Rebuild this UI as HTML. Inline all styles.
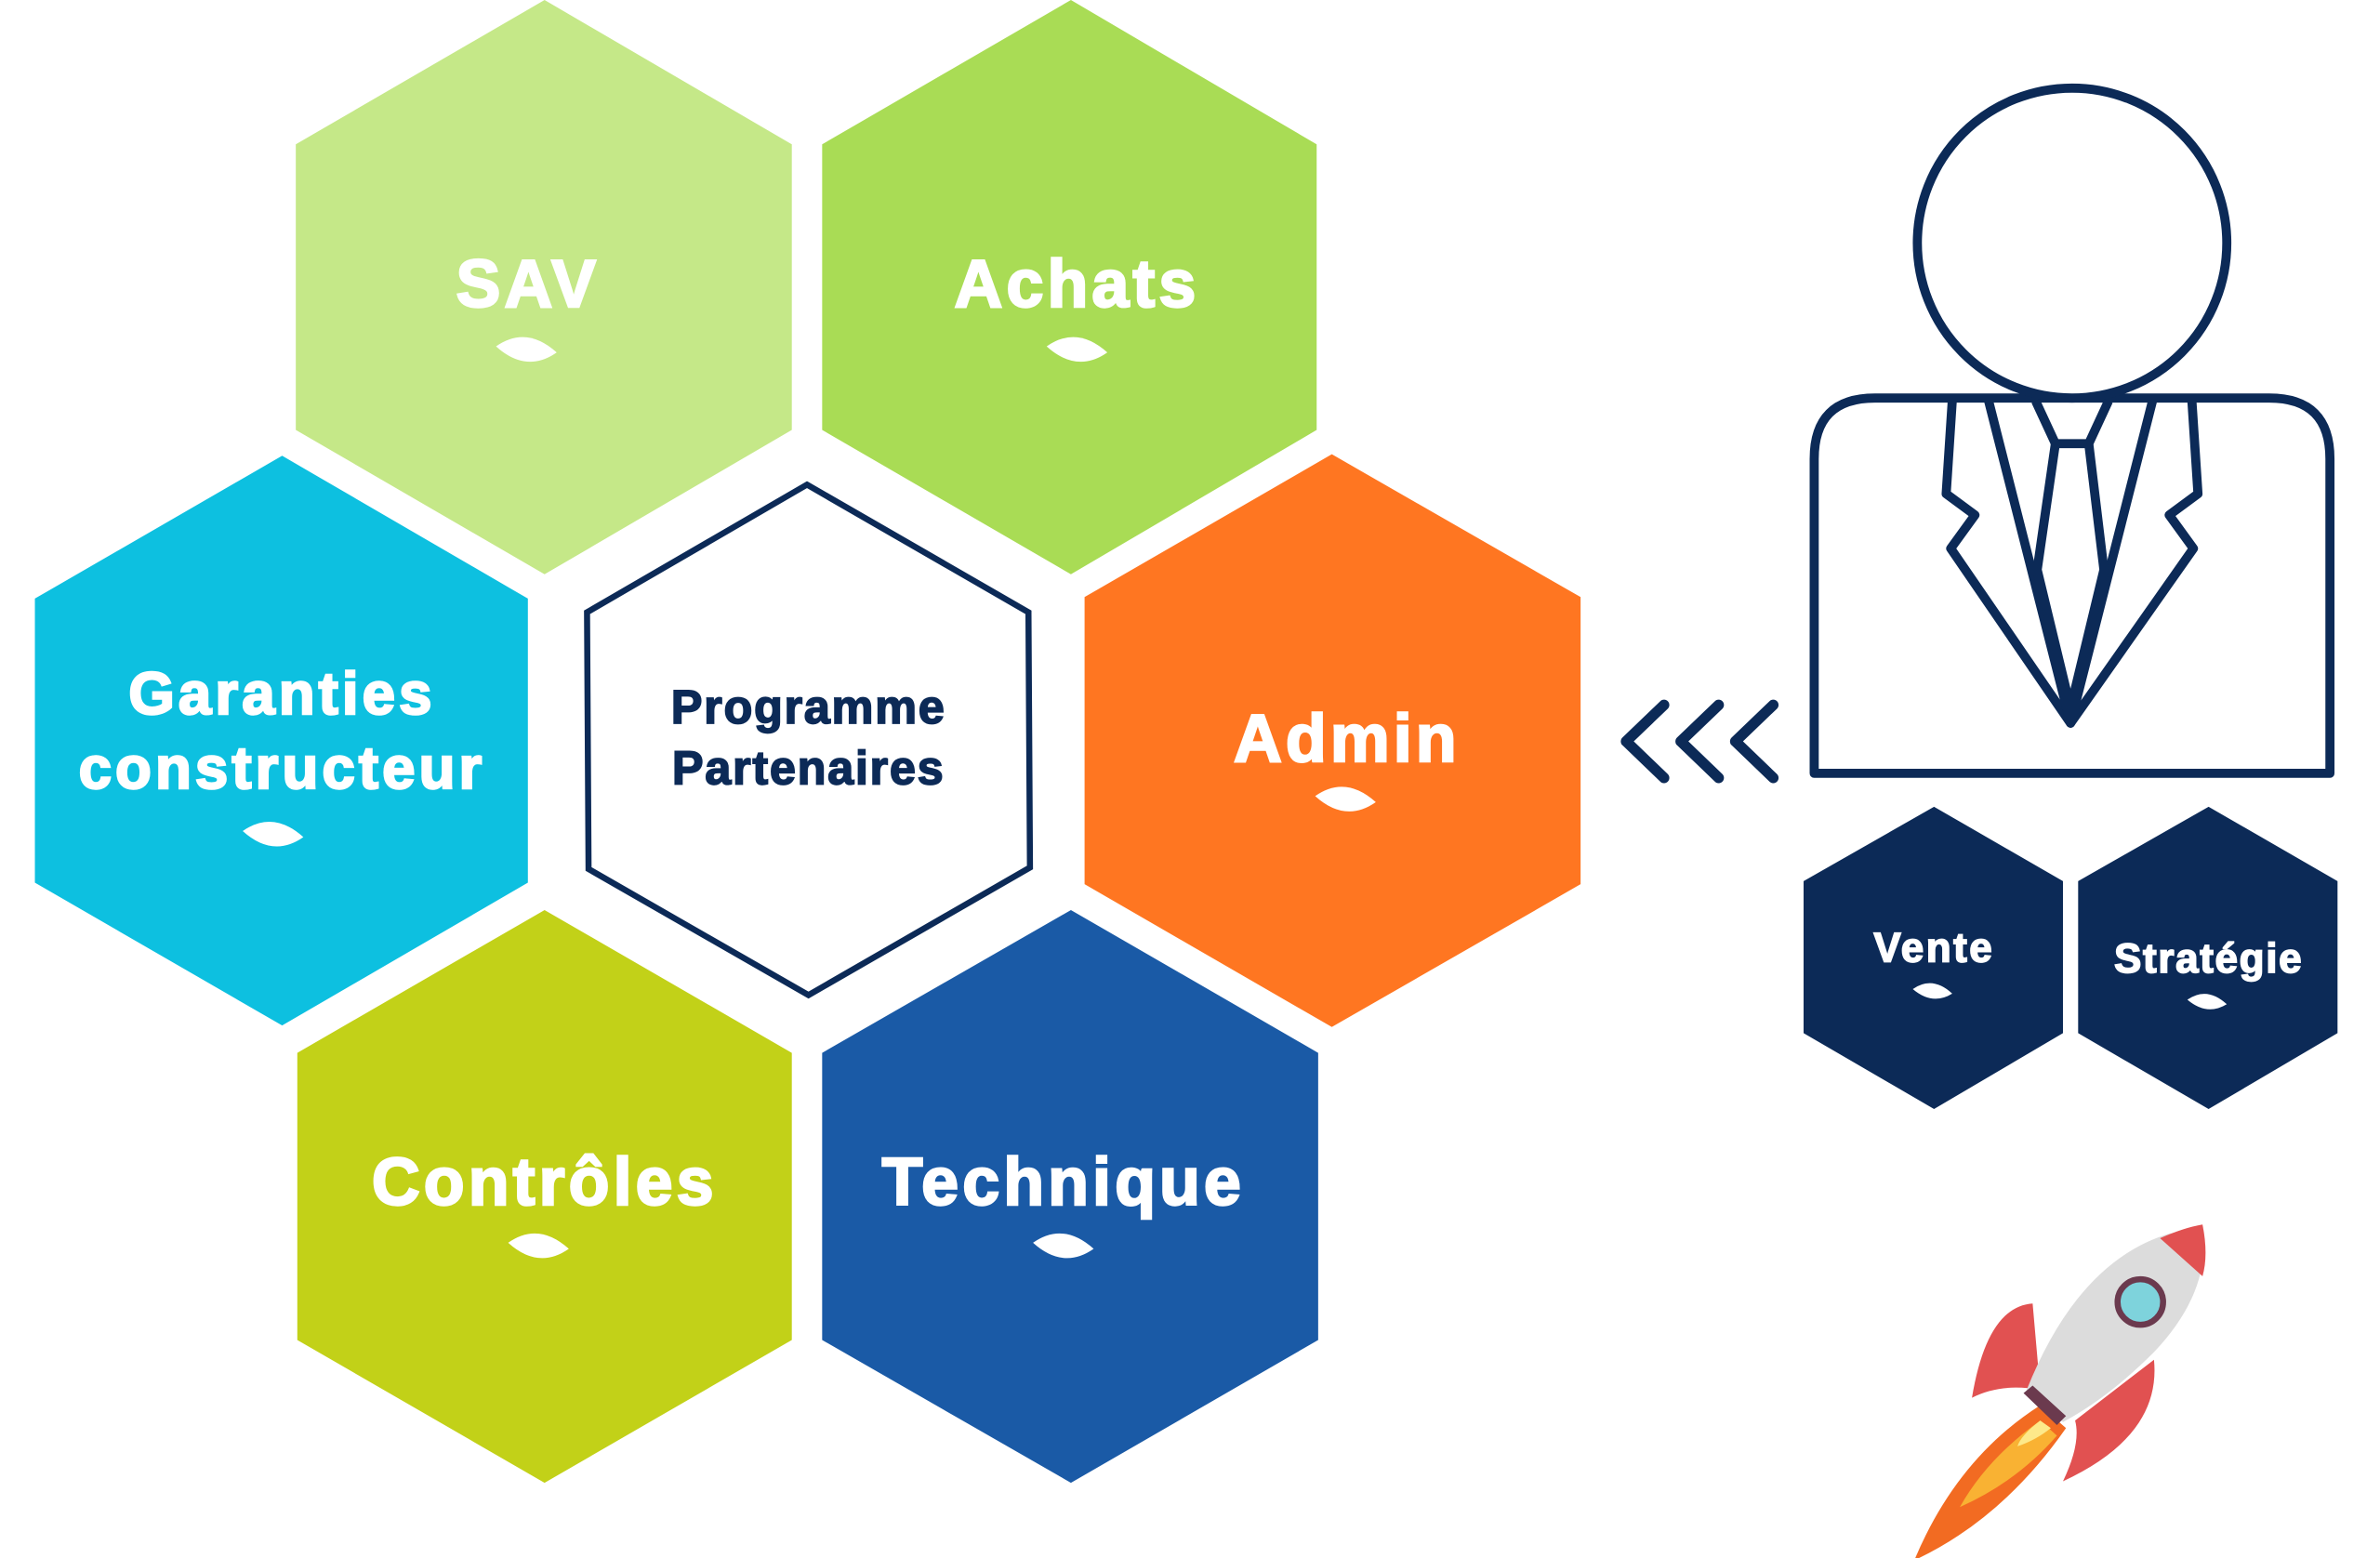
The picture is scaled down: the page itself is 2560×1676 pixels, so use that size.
<!DOCTYPE html>
<html><head><meta charset="utf-8"><style>
html,body{margin:0;padding:0;background:#fff;}
svg{display:block;}
text{font-family:"Liberation Sans",sans-serif;font-weight:bold;text-anchor:middle;}
</style></head><body>
<svg width="2560" height="1676" viewBox="0 0 1569 1025.5" preserveAspectRatio="none" xmlns="http://www.w3.org/2000/svg">
<polygon points="359,0 522,95 522,283 359,378 195,283 195,95" fill="#c5e888"/>
<polygon points="706,0 868,95 868,283 706,378 542,283 542,95" fill="#a9dc55"/>
<polygon points="186,300 348,394 348,581 186,675 23,581 23,394" fill="#0dc0e0"/>
<polygon points="878,299 1042,393 1042,582 878,676 715,582 715,393" fill="#ff7621"/>
<polygon points="359,599 522,693 522,882 359,976 196,882 196,693" fill="#c2d118"/>
<polygon points="706,599 869,693 869,882 706,976 542,882 542,693" fill="#1a5aa6"/>
<polygon points="532,319 678,403 679,571 533,655 388,572 387,403" fill="#fff" stroke="#0c2a57" stroke-width="4"/>
<polygon points="1275,531 1360,580 1360,680 1275,730 1189,680 1189,580" fill="#0c2a57"/>
<polygon points="1456,531 1541,580 1541,680 1456,730 1370,680 1370,580" fill="#0c2a57"/>
<g fill="#fff" stroke="#fff" stroke-width="1.5" font-size="44" letter-spacing="2.5">
<text x="348" y="202">SAV</text>
<text x="710" y="202">Achats</text>
<text x="186" y="470" font-size="39">Garanties</text>
<text x="186" y="519" font-size="39">constructeur</text>
<text x="888" y="501">Admin</text>
<text x="359" y="793">Contrôles</text>
<text x="701" y="793">Technique</text>
<text x="1275" y="633" font-size="27" stroke-width="1" letter-spacing="1.5">Vente</text>
<text x="1456" y="640" font-size="27" stroke-width="1" letter-spacing="1">Stratégie</text>
</g>
<g fill="#0c2a57" stroke="#0c2a57" stroke-width="1" font-size="31" letter-spacing="1">
<text x="533" y="476">Programme</text>
<text x="533" y="516">Partenaires</text>
</g>
<g fill="#fff">
<path d="M327,228 Q347,214 367,232 Q347,246 327,228Z"/>
<path d="M690,228 Q710,214 730,232 Q710,246 690,228Z"/>
<path d="M160,547 Q180,533 200,551 Q180,565 160,547Z"/>
<path d="M867,524 Q887,510 907,528 Q887,542 867,524Z"/>
<path d="M335,818 Q355,804 375,822 Q355,836 335,818Z"/>
<path d="M681,818 Q701,804 721,822 Q701,836 681,818Z"/>
<path d="M1261,651 Q1274,642 1287,654 Q1274,662 1261,651Z"/>
<path d="M1442,658 Q1455,649 1468,661 Q1455,669 1442,658Z"/>
</g>
<g fill="none" stroke="#0c2a57" stroke-width="7" stroke-linecap="round" stroke-linejoin="round">
<polyline points="1097,464 1072,488 1097,512"/>
<polyline points="1133,464 1108,488 1133,512"/>
<polyline points="1169,464 1144,488 1169,512"/>
</g>
<g fill="none" stroke="#0c2a57" stroke-width="6" stroke-linejoin="round">
<path d="M1196,509 V302 Q1196,262 1236,262 H1496 Q1536,262 1536,302 V509 Z" fill="#fff"/>
<circle cx="1366" cy="160" r="102" fill="#fff"/>
<polyline points="1287,264 1283,325 1302,339 1286,361 1365,476 1446,361 1430,339 1449,325 1445,264"/>
<polyline points="1311,264 1365,476 1419,264"/>
<polyline points="1342,264 1355,292 1377,292 1390,264"/>
<polyline points="1355,292 1343,375 1365,466 1387,375 1377,292"/>
</g>
<g>
<path d="M1340,858 Q1310,860 1300,920 Q1320,910 1345,915 Z" fill="#e15151"/>
<path d="M1420,895 Q1425,945 1360,975 Q1372,950 1368,935 Z" fill="#e15151"/>
<path d="M1345,925 Q1290,960 1262,1027 Q1320,1000 1362,940 Z" fill="#f26b22"/>
<path d="M1345,935 Q1310,960 1292,992 Q1330,975 1356,945 Z" fill="#f9b233"/>
<path d="M1345,935 Q1332,945 1330,952 Q1342,948 1352,940 Z" fill="#fde98a"/>
<path d="M1336,915 Q1370,830 1430,812 L1452,808 Q1458,850 1420,890 Q1390,920 1360,936 Z" fill="#dcdcdc"/>
<path d="M1424,815 Q1440,808 1452,806 Q1456,826 1452,840 Z" fill="#e15151"/>
<circle cx="1411" cy="857" r="15" fill="#7ed3dc" stroke="#6b3a4e" stroke-width="4"/>
<path d="M1334,917 L1340,912 L1362,932 L1356,938 Z" fill="#6b3a4e"/>
</g>
</svg>
</body></html>
